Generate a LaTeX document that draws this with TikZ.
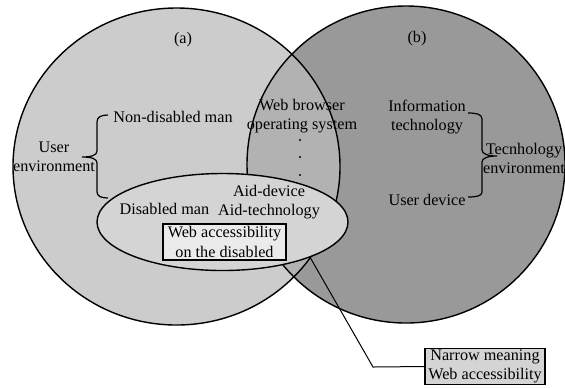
\documentclass[tikz,border=0pt]{standalone}
\usepackage{fontspec}
\setmainfont{Liberation Serif}
\usetikzlibrary{shapes.geometric}

\definecolor{usergray}{gray}{0.80}
\definecolor{techgray}{gray}{0.60}
\definecolor{bothgray}{gray}{0.70}
\definecolor{disgray}{gray}{0.83}
\definecolor{lightbox}{gray}{0.92}
\definecolor{darkbox}{gray}{0.83}

\begin{document}
\begin{tikzpicture}[x=0.5pt,y=-0.5pt,line width=0.7pt,
    font=\fontsize{8.1}{9.7}\selectfont,
    lbl/.style={align=center,inner sep=0pt},
    frame/.style={draw,align=center,inner sep=0pt,minimum height=18pt}]
    \useasboundingbox (0,0) rectangle (565,387);

    % user side and technology side
    \coordinate (ua) at (176.5,166.5);
    \coordinate (tb) at (406,164.5);
    \fill[usergray] (ua) ellipse [x radius=163.5,y radius=158.5];
    \fill[techgray] (tb) ellipse [x radius=159,y radius=158.5];
    \begin{scope}
        \clip (ua) ellipse [x radius=163.5,y radius=158.5];
        \fill[bothgray] (tb) ellipse [x radius=159,y radius=158.5];
    \end{scope}
    \draw (ua) ellipse [x radius=163.5,y radius=158.5];
    \draw (tb) ellipse [x radius=159,y radius=158.5];

    \node[lbl] (a) at (183,40) {(a)};
    \node[lbl] (b) at (417,39) {(b)};
    \node[lbl] (nd) at (173,117) {Non-disabled man};
    \node[lbl] (ue) at (54,156.5) {User\\environment};
    \node[ellipse,draw,fill=disgray,minimum width=125.5pt,minimum height=48.5pt,inner sep=0pt] (dis) at (222.5,222) {};
    \node[lbl] (dm) at (164.5,209) {Disabled man};
    \node[lbl] (aid) at (269,202) {Aid-device\\Aid-technology};
    \node[frame,fill=lightbox,minimum width=61.5pt] (wad) at (224.5,242) {Web accessibility\\on the disabled};
    \node[lbl] (wb) at (302,116) {Web browser\\operating system};
    \foreach \y in {140,157,175}
        \fill (300,\y) circle [radius=1.2];
    \node[lbl] (it) at (427,117) {Information\\technology};
    \node[lbl] (ud) at (427,200) {User device};
    \node[lbl] (te) at (524,158.5) {Tecnhology\\environment};
    \node[frame,fill=darkbox,minimum width=60pt] (nw) at (485,366.5) {Narrow meaning\\Web accessibility};

    % braces
    \draw[line width=0.6pt] (108,115) .. controls (101,115) and (97,117) .. (97,122) -- (97,151)
        .. controls (97,155) and (92,157) .. (82,157) .. controls (92,157) and (97,159) .. (97,163)
        -- (97,192) .. controls (97,196) and (101,198) .. (108,198);
    \draw[line width=0.6pt] (468,113) .. controls (476,113) and (482,114) .. (482,119) -- (482,150)
        .. controls (482,154) and (488,156) .. (497,156) .. controls (488,156) and (482,158) .. (482,162)
        -- (482,192) .. controls (482,196) and (476,197) .. (468,197);

    \coordinate (kink) at (373,367);
    \draw[line width=0.5pt] (dis.-22) -- (kink) -- (nw.west);
\end{tikzpicture}
\end{document}
